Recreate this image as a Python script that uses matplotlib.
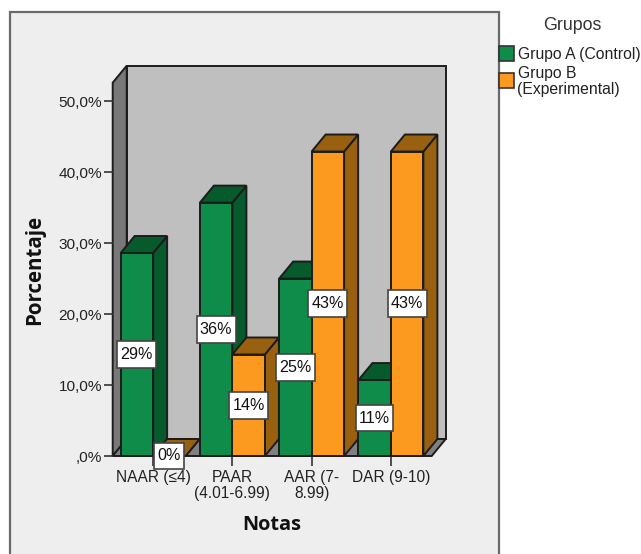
import matplotlib
matplotlib.use("Agg")
import matplotlib.pyplot as plt
from matplotlib.patches import Polygon, Rectangle
from matplotlib.path import Path

W, H = 641, 554

categories = ["NAAR (≤4)", "PAAR\n(4.01-6.99)", "AAR (7-\n8.99)", "DAR (9-10)"]
grupo_a = [28.6, 35.7, 25.0, 10.7]
grupo_b = [0.0, 14.3, 42.9, 42.9]
y_ticks = [0, 10, 20, 30, 40, 50]
y_tick_labels = [",0%", "10,0%", "20,0%", "30,0%", "40,0%", "50,0%"]
legend_labels = ["Grupo A (Control)", "Grupo B\n(Experimental)"]

GREEN = ("#0f8c49", "#075a2b", "#075a2b")   # front, side, top
ORANGE = ("#fb9a1e", "#98600f", "#98600f")
EDGE = "#1c1c1c"
TEXT = "#222222"
FONT = "Liberation Sans"
BOLD_FONT = "Open Sans"

# depth of the fake 3D box, in data units
XLIM = (-0.51, 3.515)
YLIM = (0, 52.6)
DX = 14.0 / 79.16
DY = 17 / 7.09
BAR_W = 0.41


def fx(px):
    return px / W


def fy(py):
    return 1 - py / H


def label_box(x0, y0, width, height, mutation_size):
    # value boxes are padded more vertically than horizontally
    px, py = 3.2, 5.8
    l, r, b, t = x0 - px, x0 + width + px, y0 - py, y0 + height + py
    return Path([(l, b), (r, b), (r, t), (l, t), (l, b)], closed=True)


def face(ax, pts, color, z, lw=1.4):
    ax.add_patch(Polygon(pts, closed=True, facecolor=color, edgecolor=EDGE,
                         linewidth=lw, joinstyle="miter", clip_on=False, zorder=z))


def draw_bar(ax, x0, value, colors, z):
    x1 = x0 + BAR_W
    face(ax, [(x1, 0), (x1 + DX, DY), (x1 + DX, value + DY), (x1, value)], colors[1], z)
    face(ax, [(x0, value), (x0 + DX, value + DY), (x1 + DX, value + DY), (x1, value)], colors[2], z)
    face(ax, [(x0, 0), (x1, 0), (x1, value), (x0, value)], colors[0], z)


def value_label(ax, x, value, z):
    ax.text(x, value / 2, f"{value:.0f}%", ha="center", va="center", fontsize=11.6,
            family=FONT, color="#111111", zorder=z, clip_on=False,
            bbox=dict(boxstyle=label_box, facecolor="white",
                      edgecolor="#444444", linewidth=1.2))


fig = plt.figure(figsize=(W / 100, H / 100), dpi=100, facecolor="white")

# chart panel runs off the bottom of the figure
fig.add_artist(Rectangle((fx(9.5), fy(570)), fx(489.5), 570 / H - 11.5 / H,
                         transform=fig.transFigure, facecolor="#eeeeee",
                         edgecolor="#6a6a6a", linewidth=1.6, zorder=0))

ax = fig.add_axes([fx(112.7), fy(456), fx(319), (456 - 82.7) / H], facecolor="none")
ax.set_xlim(*XLIM)
ax.set_ylim(*YLIM)
for spine in ax.spines.values():
    spine.set_visible(False)

x_l, x_r = XLIM
top = YLIM[1]
face(ax, [(x_l + DX, DY), (x_r + DX, DY), (x_r + DX, top + DY), (x_l + DX, top + DY)], "#bfbfbf", 1)
face(ax, [(x_l, 0), (x_l + DX, DY), (x_l + DX, top + DY), (x_l, top)], "#787878", 1)
face(ax, [(x_l, 0), (x_r, 0), (x_r + DX, DY), (x_l + DX, DY)], "#808080", 1)

for i, (a, b) in enumerate(zip(grupo_a, grupo_b)):
    z = 2 + i
    draw_bar(ax, i - BAR_W, a, GREEN, z)
    draw_bar(ax, i, b, ORANGE, z + 0.5)

for i, (a, b) in enumerate(zip(grupo_a, grupo_b)):
    value_label(ax, i - BAR_W / 2, a, 10)
    value_label(ax, i + BAR_W / 2, b, 10)

ax.set_xticks(range(len(categories)), categories, family=FONT, fontsize=11.2,
              color=TEXT, linespacing=1.09)
ax.set_yticks(y_ticks, y_tick_labels, family=FONT, fontsize=11.1, color=TEXT)
ax.tick_params(axis="x", length=7.4, width=1.2, color="#333333", pad=2.6)
ax.tick_params(axis="y", length=6.8, width=1.2, color="#333333", pad=0.8)

fig.text(fx(35), fy(270), "Porcentaje", rotation=90, ha="center", va="center",
         family=BOLD_FONT, fontweight="bold", fontsize=14.8, color="#111111")
fig.text(fx(272), fy(525), "Notas", ha="center", va="center",
         family=BOLD_FONT, fontweight="bold", fontsize=14.3, color="#111111")

# legend sits on the panel border
fig.text(fx(572), fy(25), "Grupos", ha="center", va="center", family=FONT,
         fontsize=12.8, color="#333333")
swatches = [(46.5, GREEN[0]), (73.5, ORANGE[0])]
for (py, color), label, ty in zip(swatches, legend_labels, [55, 81.5]):
    fig.add_artist(Rectangle((fx(499), fy(py + 14.5)), fx(14.5), 14.5 / H,
                             transform=fig.transFigure, facecolor=color,
                             edgecolor="#333333", linewidth=1.2, zorder=5))
    fig.text(fx(517.5), fy(ty), label, ha="left", va="center", family=FONT,
             fontsize=11.3, color=TEXT, linespacing=1.09)

fig.savefig("out.png", dpi=100, facecolor=fig.get_facecolor())
